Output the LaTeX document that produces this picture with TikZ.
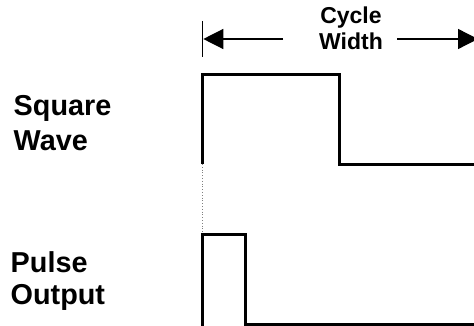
\documentclass[tikz,border=0pt]{standalone}
\usepackage{fontspec}
\setmainfont{Liberation Sans}
\usetikzlibrary{arrows.meta}
\begin{document}
\begin{tikzpicture}[x=1pt,y=-1pt,
  wave/.style={line width=3pt, line join=miter, line cap=butt},
  biglabel/.style={anchor=base west, inner sep=0pt, font=\fontsize{28.8}{30}\selectfont\bfseries},
  toplabel/.style={anchor=base, inner sep=0pt, font=\fontsize{23}{26}\selectfont\bfseries},
  dim/.style={line width=1.3pt, -{Triangle[length=20pt,width=20pt]}}]
\useasboundingbox (0,0) rectangle (474,326);
% labels
\node[biglabel] (sq1) at (13.5,115.5) {Square};
\node[biglabel] (sq2) at (13.5,150.5) {Wave};
\node[biglabel] (pu1) at (10.5,272) {Pulse};
\node[biglabel] (pu2) at (10.5,304.5) {Output};
\node[toplabel] (cy1) at (351,24) {Cycle};
\node[toplabel] (cy2) at (351,50) {Width};
% cycle width marker
\coordinate (mtop) at (202.3,21);
\coordinate (mbot) at (202.3,57);
\draw[line width=1.3pt] (mtop) -- (mbot);
\coordinate (la) at (283,39);
\coordinate (lt) at (203.3,39);
\coordinate (ra) at (397,39);
\coordinate (rt) at (478,39);
\draw[dim] (la) -- (lt);
\draw[dim] (ra) -- (rt);
% square wave
\coordinate (s0) at (202,164);
\coordinate (s1) at (202,74.5);
\coordinate (s2) at (339,74.5);
\coordinate (s3) at (339,164.5);
\coordinate (s4) at (476,164.5);
\draw[wave] (s0) -- (s1) -- (s2) -- (s3) -- (s4);
% dotted guide
\coordinate (d0) at (202,164);
\coordinate (d1) at (202,234);
\draw[line width=0.8pt, gray, dotted] (d0) -- (d1);
% pulse output
\coordinate (p0) at (202,328);
\coordinate (p1) at (202,234.5);
\coordinate (p2) at (245.5,234.5);
\coordinate (p3) at (245.5,324.5);
\coordinate (p4) at (476,324.5);
\draw[wave] (p0) -- (p1) -- (p2) -- (p3) -- (p4);
\end{tikzpicture}
\end{document}
